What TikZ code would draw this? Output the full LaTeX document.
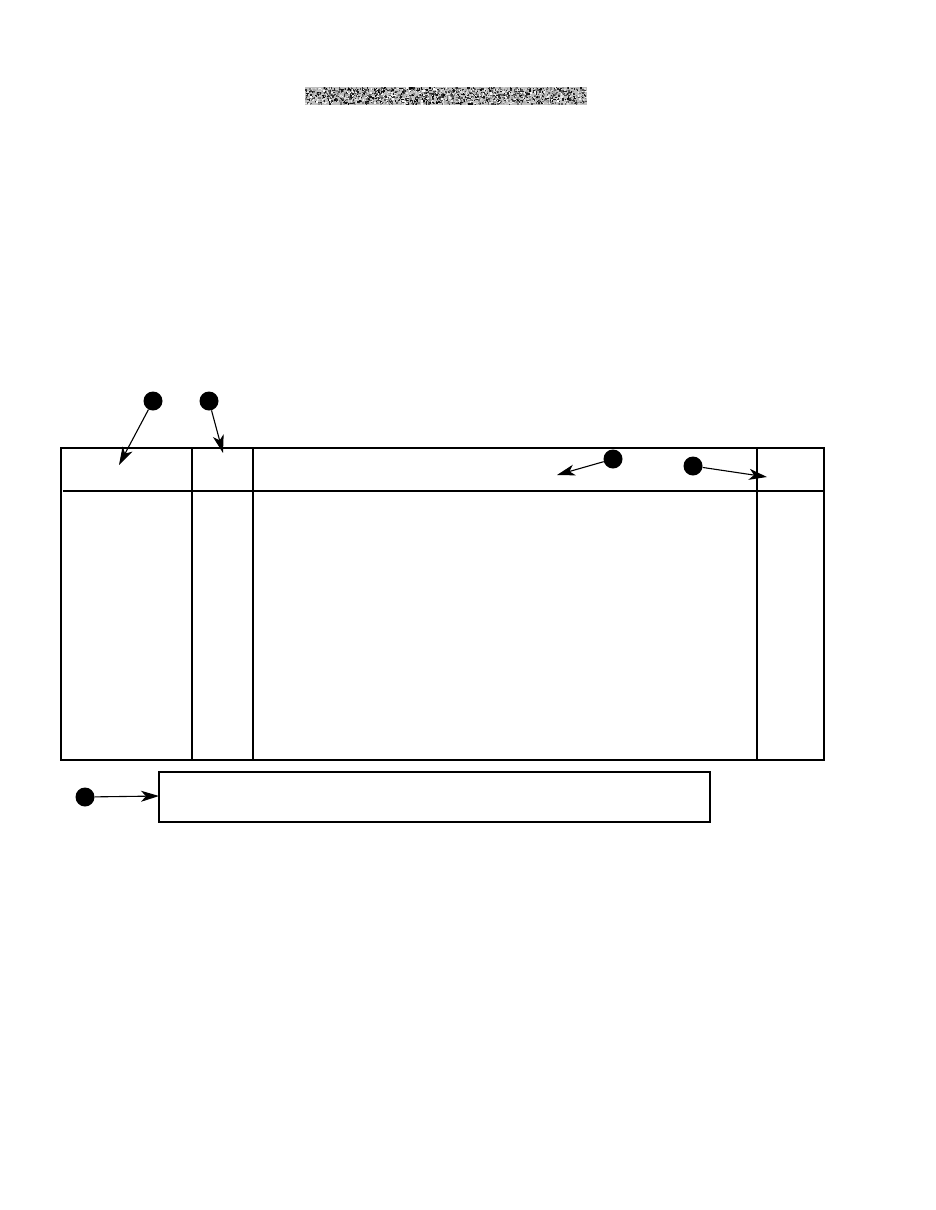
\documentclass[tikz,border=0pt]{standalone}
\usetikzlibrary{arrows.meta}
\begin{document}
\begin{tikzpicture}[x=1pt,y=-1pt,
  ln/.style={line width=1.1pt},
  bullet/.style={circle,fill=black,inner sep=0pt,minimum size=19pt},
  callout/.style={line width=1.1pt,-{Stealth[length=18pt,width=11pt,inset=5pt]}}]
\useasboundingbox (0,0) rectangle (935,1210);
% noisy bar
\fill[gray!50] (305,87) rectangle (587,105);
\pgfmathsetseed{7}
\foreach \i in {1,...,2600}{
  \pgfmathsetmacro{\xx}{305+280.5*rnd}
  \pgfmathsetmacro{\yy}{87+16.5*rnd}
  \pgfmathsetmacro{\cc}{100*rnd}
  \fill[black!\cc] (\xx,\yy) rectangle ++(1.5,1.5);
}
% table
\draw[ln] (61,448) rectangle (824,760);
\draw[ln] (63,491) -- (824,491);
\draw[ln] (192,448) -- (192,760);
\draw[ln] (253,448) -- (253,760);
\draw[ln] (757,448) -- (757,760);
% bottom box
\draw[ln] (159,772) rectangle (710,822);
% bullets
\node[bullet] (b1) at (153,401) {};
\node[bullet] (b2) at (209,401) {};
\node[bullet] (b3) at (613,459) {};
\node[bullet] (b4) at (693,466) {};
\node[bullet] (b5) at (85,797) {};
\coordinate (t1) at (119,465);
\coordinate (t2) at (223,453);
\coordinate (t3) at (557,475);
\coordinate (t4) at (767,477);
\coordinate (t5) at (159,796);
\draw[callout] (b1) -- (t1);
\draw[callout] (b2) -- (t2);
\draw[callout] (b3) -- (t3);
\draw[callout] (b4) -- (t4);
\draw[callout] (b5) -- (t5);
\end{tikzpicture}
\end{document}
